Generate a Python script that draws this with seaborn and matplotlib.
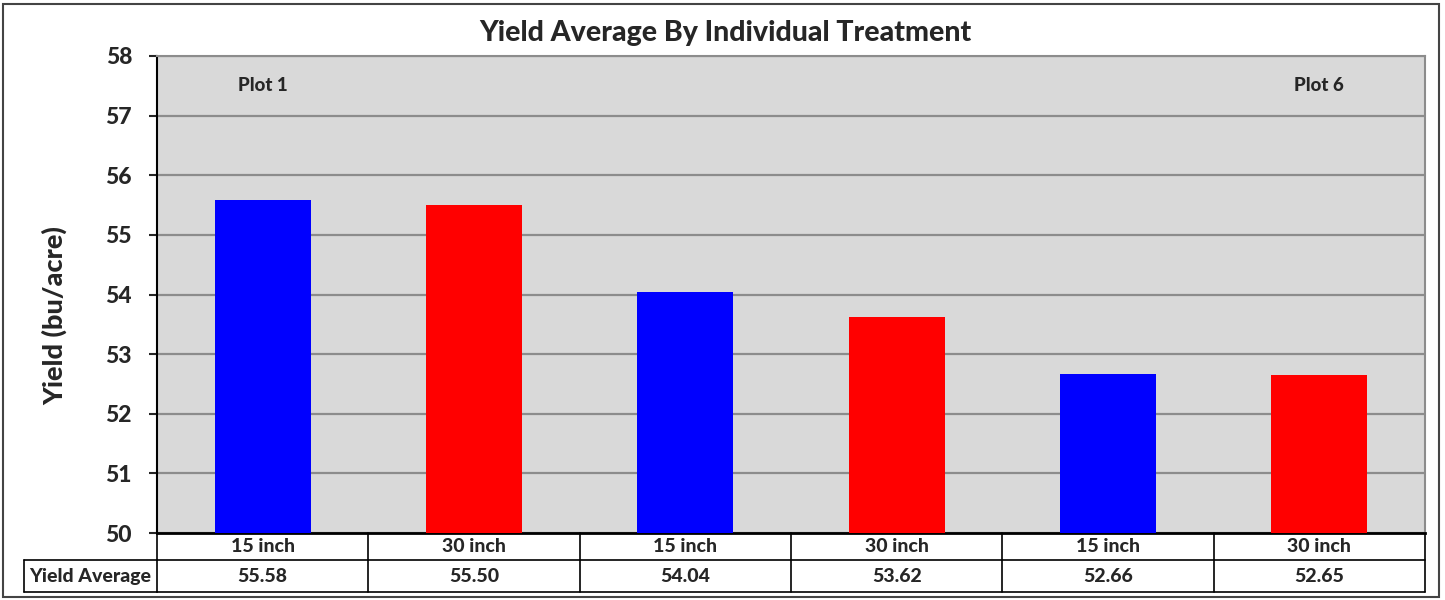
import pandas as pd
import matplotlib
matplotlib.use("Agg")
import matplotlib.pyplot as plt
import seaborn as sns
from matplotlib.patches import Rectangle

# ==========================================================
# Data
# ==========================================================

treatments = ["T1", "T2", "T3", "T4", "T5", "T6"]
spacing = ["15 inch", "30 inch", "15 inch", "30 inch", "15 inch", "30 inch"]
yield_avg = [55.58, 55.50, 54.04, 53.62, 52.66, 52.65]
plot_labels = {0: "Plot 1", 5: "Plot 6"}
colors = {"15 inch": "#0000FF", "30 inch": "#FF0000"}

df = pd.DataFrame({"treatment": treatments, "spacing": spacing, "yield": yield_avg})

# ==========================================================
# Style
# ==========================================================

sns.set_style("white")
plt.rcParams["font.family"] = ["Lato", "DejaVu Sans"]
W = 900  # heaviest weight available

fig = plt.figure(figsize=(14.45, 6), dpi=100)
ax = fig.add_axes([157 / 1445, 67 / 600, 1268 / 1445, 477 / 600])
ax.set_facecolor("#D9D9D9")

sns.barplot(
    data=df, x="treatment", y="yield", hue="spacing", order=treatments,
    palette=colors, dodge=False, width=0.455, legend=False, ax=ax,
    saturation=1, linewidth=0, zorder=3
)

ax.set_ylim(50, 58)
ax.set_xlim(-0.5, len(treatments) - 0.5)
ax.set_yticks(range(50, 59))
ax.set_yticklabels([str(v) for v in range(50, 59)], fontsize=16.5, fontweight=W)
ax.tick_params(axis="y", direction="out", length=6, width=1.5, pad=12, left=True)
ax.set_xticks([])
ax.set_xlabel("")
ax.set_ylabel("Yield (bu/acre)", fontsize=19.5, fontweight=W)
ax.yaxis.set_label_coords(-0.0705, 0.455)

ax.yaxis.grid(True, color="#8C8C8C", linewidth=1.6, zorder=1)
ax.set_axisbelow(True)
for side in ["top", "right"]:
    ax.spines[side].set_color("#8C8C8C")
    ax.spines[side].set_linewidth(1.5)
ax.spines["left"].set_color("black")
ax.spines["left"].set_linewidth(1.5)
ax.spines["bottom"].set_color("black")
ax.spines["bottom"].set_linewidth(2)

for i, lab in plot_labels.items():
    ax.text(i, 57.5, lab, ha="center", va="center", fontsize=13.5, fontweight=W)

# ==========================================================
# Data table under the chart
# ==========================================================

tr = ax.get_xaxis_transform()
row1 = -0.0566
row2 = -0.1237
label_left = -0.1049

ax.plot([-0.5, len(treatments) - 0.5], [row1, row1], color="black", lw=1.2,
        transform=tr, clip_on=False)
ax.plot([-0.5, len(treatments) - 0.5], [row2, row2], color="black", lw=1.2,
        transform=tr, clip_on=False)
for k in range(len(treatments) + 1):
    ax.plot([k - 0.5, k - 0.5], [0, row2], color="black", lw=1.2,
            transform=tr, clip_on=False)

ax.plot([label_left, 0], [row1, row1], color="black", lw=1.2,
        transform=ax.transAxes, clip_on=False)
ax.plot([label_left, 0], [row2, row2], color="black", lw=1.2,
        transform=ax.transAxes, clip_on=False)
ax.plot([label_left, label_left], [row1, row2], color="black", lw=1.2,
        transform=ax.transAxes, clip_on=False)

for i, (sp, val) in enumerate(zip(spacing, yield_avg)):
    ax.text(i, row1 / 2, sp, transform=tr, ha="center", va="center",
            fontsize=14, fontweight=W, clip_on=False)
    ax.text(i, (row1 + row2) / 2, f"{val:.2f}", transform=tr, ha="center",
            va="center", fontsize=14, fontweight=W, clip_on=False)

ax.text((label_left + 0) / 2, (row1 + row2) / 2, "Yield Average",
        transform=ax.transAxes, ha="center", va="center", fontsize=14,
        fontweight=W, clip_on=False)

# ==========================================================
# Title and outer border
# ==========================================================

fig.text(0.502, 0.945, "Yield Average By Individual Treatment", ha="center",
         va="center", fontsize=20.5, fontweight=W)

fig.patches.append(Rectangle((3 / 1445, 3 / 600), 1436 / 1445, 593 / 600,
                             transform=fig.transFigure, fill=False,
                             edgecolor="#444444", linewidth=1.5))

fig.savefig("out.png", dpi=100)
